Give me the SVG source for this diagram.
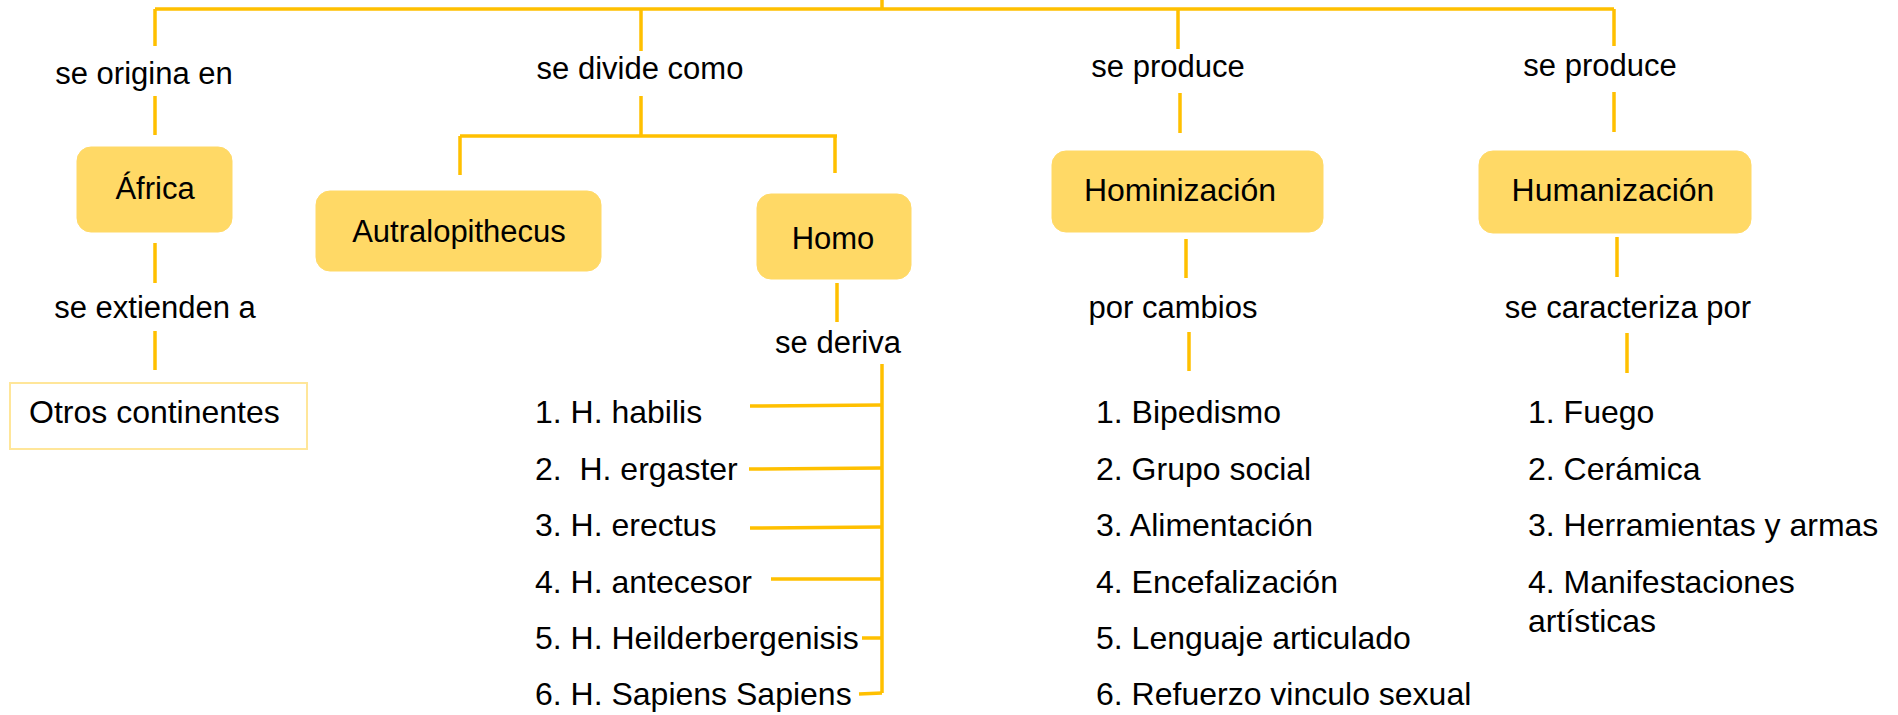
<svg xmlns="http://www.w3.org/2000/svg" width="1898" height="715" viewBox="0 0 1898 715">
<style>
.bg{fill:#ffffff}
.box{fill:#FFD966;stroke:#FFD966;stroke-width:1}
.wbox{fill:#ffffff;stroke:#FFE699;stroke-width:2}
.t{font-family:"Liberation Sans",Arial,sans-serif;font-size:31px;fill:#000000}
.l{font-size:32px}
.c{text-anchor:middle}
.ln{stroke:#FFC000;stroke-width:3.5;fill:none;stroke-linecap:butt}
</style>
<rect class="bg" x="0" y="0" width="1898" height="715"/>
<g id="connectors">
<path class="ln" d="M882 0 V9 M155 9 H1614 M155 9 V46 M641 9 V51 M1178 9 V49 M1614 9 V46"/>
<path class="ln" d="M155 96 V135 M641 96 V136 M460 136 H837 M460 136 V175 M835 136 V173 M1180 93 V133 M1614 92 V132"/>
<path class="ln" d="M155 243 V283 M155 331 V370"/>
<path class="ln" d="M837 283 V322 M882 364 V693"/>
<path class="ln" d="M750 406 L882 405 M749 469 L882 468 M750 528 L882 527 M771 579 H882 M862 638 H882 M859 694 L882 693"/>
<path class="ln" d="M1186 239 V278 M1189 332 V371 M1617 237 V277 M1627 333 V373"/>
</g>
<g id="lbl-origina"><text class="t c" x="144" y="84">se origina en</text></g>
<g id="lbl-divide"><text class="t c" x="640" y="79">se divide como</text></g>
<g id="lbl-produce1"><text class="t c" x="1168" y="77">se produce</text></g>
<g id="lbl-produce2"><text class="t c" x="1600" y="76">se produce</text></g>
<g id="africa"><rect class="box" x="77" y="147" width="155" height="85" rx="14"/><text class="t c" x="155" y="199">África</text></g>
<g id="autralopithecus"><rect class="box" x="316" y="191" width="285" height="80" rx="14"/><text class="t c" x="459" y="242">Autralopithecus</text></g>
<g id="homo"><rect class="box" x="757" y="194" width="154" height="85" rx="14"/><text class="t c" x="833" y="249">Homo</text></g>
<g id="hominizacion"><rect class="box" x="1052" y="151" width="271" height="81" rx="14"/><text class="t l c" x="1180" y="201">Hominización</text></g>
<g id="humanizacion"><rect class="box" x="1479" y="151" width="272" height="82" rx="14"/><text class="t l c" x="1613" y="201">Humanización</text></g>
<g id="lbl-extienden"><text class="t c" x="155" y="318">se extienden a</text></g>
<g id="otros"><rect class="wbox" x="10" y="383" width="297" height="66"/><text class="t l" x="29" y="423">Otros continentes</text></g>
<g id="lbl-deriva"><text class="t c" x="838" y="353">se deriva</text></g>
<g id="lbl-cambios"><text class="t c" x="1173" y="318">por cambios</text></g>
<g id="lbl-caracteriza"><text class="t c" x="1628" y="318">se caracteriza por</text></g>
<g id="homo-list">
<text class="t l" x="535" y="423">1. H. habilis</text>
<text class="t l" x="535" y="480" xml:space="preserve">2.  H. ergaster</text>
<text class="t l" x="535" y="536">3. H. erectus</text>
<text class="t l" x="535" y="593">4. H. antecesor</text>
<text class="t l" x="535" y="649">5. H. Heilderbergenisis</text>
<text class="t l" x="535" y="705">6. H. Sapiens Sapiens</text>
</g>
<g id="hominizacion-list">
<text class="t l" x="1096" y="423">1. Bipedismo</text>
<text class="t l" x="1096" y="480">2. Grupo social</text>
<text class="t l" x="1096" y="536">3. Alimentación</text>
<text class="t l" x="1096" y="593">4. Encefalización</text>
<text class="t l" x="1096" y="649">5. Lenguaje articulado</text>
<text class="t l" x="1096" y="705">6. Refuerzo vinculo sexual</text>
</g>
<g id="humanizacion-list">
<text class="t l" x="1528" y="423">1. Fuego</text>
<text class="t l" x="1528" y="480">2. Cerámica</text>
<text class="t l" x="1528" y="536">3. Herramientas y armas</text>
<text class="t l" x="1528" y="593">4. Manifestaciones</text>
<text class="t l" x="1528" y="632">artísticas</text>
</g>
</svg>
